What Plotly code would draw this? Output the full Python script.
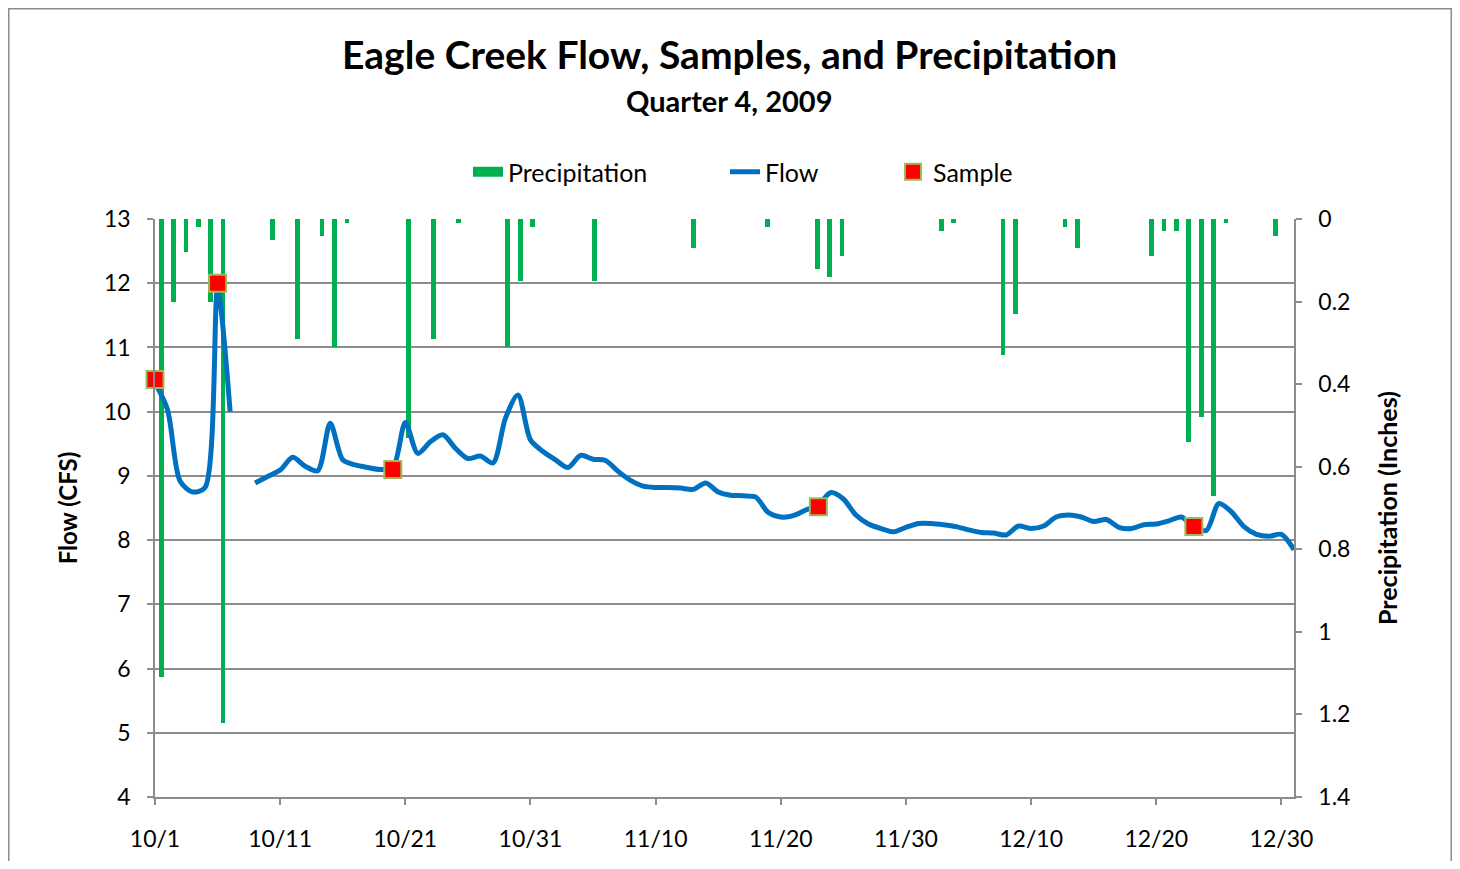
import plotly.graph_objects as go
import pandas as pd

# ---------------- data ----------------
precip_dates = ["2009-10-01", "2009-10-02", "2009-10-03", "2009-10-04", "2009-10-05", "2009-10-06",
                "2009-10-10", "2009-10-12", "2009-10-14", "2009-10-15", "2009-10-16",
                "2009-10-21", "2009-10-23", "2009-10-25", "2009-10-29", "2009-10-30", "2009-10-31",
                "2009-11-05", "2009-11-13", "2009-11-19", "2009-11-23", "2009-11-24", "2009-11-25",
                "2009-12-03", "2009-12-04", "2009-12-08", "2009-12-09", "2009-12-13", "2009-12-14",
                "2009-12-20", "2009-12-21", "2009-12-22", "2009-12-23", "2009-12-24", "2009-12-25",
                "2009-12-26", "2009-12-30"]
precip_values = [1.11, 0.20, 0.08, 0.02, 0.20, 1.22,
                 0.05, 0.29, 0.04, 0.31, 0.01,
                 0.53, 0.29, 0.01, 0.31, 0.15, 0.02,
                 0.15, 0.07, 0.02, 0.12, 0.14, 0.09,
                 0.03, 0.01, 0.33, 0.23, 0.02, 0.07,
                 0.09, 0.03, 0.03, 0.54, 0.48, 0.67,
                 0.01, 0.04]

flow_start = "2009-10-01"
flow_values = [10.45, 10.03, 8.92, 8.75, 8.82, 11.9, 10.0, None,
               8.89, 8.99, 9.09, 9.29, 9.15, 9.08, 9.82, 9.25, 9.17, 9.13,
               9.10, 9.12, 9.83, 9.35, 9.53, 9.64, 9.43, 9.27, 9.31, 9.20,
               9.90, 10.26, 9.56, 9.38, 9.25, 9.13, 9.32, 9.26, 9.24, 9.07,
               8.93, 8.84, 8.82, 8.82, 8.81, 8.79, 8.89, 8.75, 8.70, 8.69,
               8.67, 8.43, 8.36, 8.38, 8.47, 8.55, 8.74, 8.64, 8.39, 8.25,
               8.18, 8.13, 8.20, 8.26, 8.26, 8.24, 8.21, 8.16, 8.12, 8.11,
               8.08, 8.22, 8.18, 8.22, 8.36, 8.39, 8.36, 8.29, 8.32, 8.20,
               8.18, 8.24, 8.25, 8.30, 8.36, 8.21, 8.15, 8.57, 8.44, 8.21,
               8.09, 8.06, 8.09, 7.85]

sample_dates = ["2009-10-01", "2009-10-06", "2009-10-20", "2009-11-23", "2009-12-23"]
sample_values = [10.5, 12.0, 9.1, 8.52, 8.21]

xtick_dates = ["2009-10-01", "2009-10-11", "2009-10-21", "2009-10-31", "2009-11-10",
               "2009-11-20", "2009-11-30", "2009-12-10", "2009-12-20", "2009-12-30"]
xtick_labels = ["10/1", "10/11", "10/21", "10/31", "11/10", "11/20", "11/30", "12/10", "12/20", "12/30"]

flow_dates = pd.date_range(flow_start, periods=len(flow_values), freq="D")

FONT = "Lato, 'Open Sans', sans-serif"
GRID = "#8c8c8c"
DAY_MS = 86400000
GREEN, BLUE, RED = "#00B050", "#0070C0", "#FF0000"

# page offset (body margin) and target plot box in screen pixels
OFF = 8
W, H = 1444, 853
L, R, T, B = 155 - OFF, 1294 - OFF, 219 - OFF, 797 - OFF
pw, ph = R - L, B - T


def px(xs):
    return (xs - OFF - L) / pw


def py(ys):
    return (B - (ys - OFF)) / ph


fig = go.Figure()

fig.add_trace(go.Bar(
    x=precip_dates, y=precip_values, name="Precipitation", showlegend=False,
    xaxis="x", yaxis="y",
    xperiod=DAY_MS, xperiodalignment="middle",
    width=0.38 * DAY_MS,
    marker=dict(color=GREEN, line=dict(width=0)),
))
# legend key only (wide green block like the original)
fig.add_trace(go.Scatter(
    x=[None], y=[None], name="Precipitation", mode="lines", legend="legend",
    xaxis="x", yaxis="y", line=dict(color=GREEN, width=14),
))

fig.add_trace(go.Scatter(
    x=flow_dates, y=flow_values, name="Flow", mode="lines", legend="legend2",
    xaxis="x2", yaxis="y2",
    line=dict(color=BLUE, width=5, shape="spline", smoothing=0.8),
    connectgaps=False,
))

fig.add_trace(go.Scatter(
    x=sample_dates, y=sample_values, name="Sample", mode="markers", legend="legend3",
    xaxis="x2", yaxis="y2", cliponaxis=False,
    marker=dict(symbol="square", size=17, color=RED,
                line=dict(color="#9BBB59", width=2)),
))

leg_common = dict(orientation="h", xanchor="left", yanchor="middle", y=py(172),
                  font=dict(size=25, family=FONT), bgcolor="rgba(0,0,0,0)",
                  itemclick=False, itemdoubleclick=False)

fig.update_layout(
    width=W, height=H,
    margin=dict(l=L, r=W - R, t=T, b=H - B, pad=0, autoexpand=False),
    paper_bgcolor="white", plot_bgcolor="white",
    font=dict(family=FONT, size=23, color="#000000"),
    showlegend=True,
    bargap=0,
    legend=dict(x=px(468), **leg_common),
    legend2=dict(x=px(725), **leg_common),
    legend3=dict(x=px(893), **leg_common),
    xaxis=dict(type="date", range=["2009-10-01", "2010-01-01"], visible=False,
               domain=[0, 1], anchor="y", automargin=False),
    yaxis=dict(range=[1.4, 0], side="right", anchor="x", dtick=0.2, tick0=0, automargin=False,
               showgrid=False, zeroline=False, showline=True, linecolor=GRID, linewidth=1.5,
               ticks="outside", ticklen=6, tickcolor=GRID, tickwidth=1.5,
               tickfont=dict(size=23), ticklabelstandoff=12,
               title=dict(text="<b>Precipitation (Inches)</b>", font=dict(size=25), standoff=30)),
    xaxis2=dict(type="date", range=["2009-10-01", "2009-12-31"], overlaying="x", anchor="y2",
                side="bottom", tickmode="array", tickvals=xtick_dates, ticktext=xtick_labels,
                automargin=False,
                showgrid=False, zeroline=False, showline=True, linecolor=GRID, linewidth=1.5,
                ticks="outside", ticklen=6, tickcolor=GRID, tickwidth=1.5,
                tickfont=dict(size=23), ticklabelstandoff=15),
    yaxis2=dict(range=[4, 13], dtick=1, overlaying="y", side="left", anchor="x2", automargin=False,
                showgrid=True, gridcolor=GRID, gridwidth=1.5, zeroline=False,
                showline=True, linecolor=GRID, linewidth=1.5,
                ticks="outside", ticklen=6, tickcolor=GRID, tickwidth=1.5,
                tickfont=dict(size=23), ticklabelstandoff=12,
                title=dict(text="<b>Flow (CFS)</b>", font=dict(size=24), standoff=20)),
    annotations=[
        dict(text="<b>Eagle Creek Flow, Samples, and Precipitation</b>", xref="paper", yref="paper",
             x=px(729), y=py(54), xanchor="center", yanchor="middle", showarrow=False,
             font=dict(size=39, family=FONT)),
        dict(text="<b>Quarter 4, 2009</b>", xref="paper", yref="paper",
             x=px(729), y=py(100), xanchor="center", yanchor="middle", showarrow=False,
             font=dict(size=29, family=FONT)),
    ],
    shapes=[
        dict(type="rect", xref="paper", yref="paper",
             x0=(0.75 - L) / pw, x1=(W - 0.75 - L) / pw,
             y0=(B - (H + 20)) / ph, y1=(B - 0.75) / ph,
             line=dict(color="#8c8c8c", width=1.5), fillcolor="rgba(0,0,0,0)", layer="below"),
    ],
)

fig.write_html("out.html")
